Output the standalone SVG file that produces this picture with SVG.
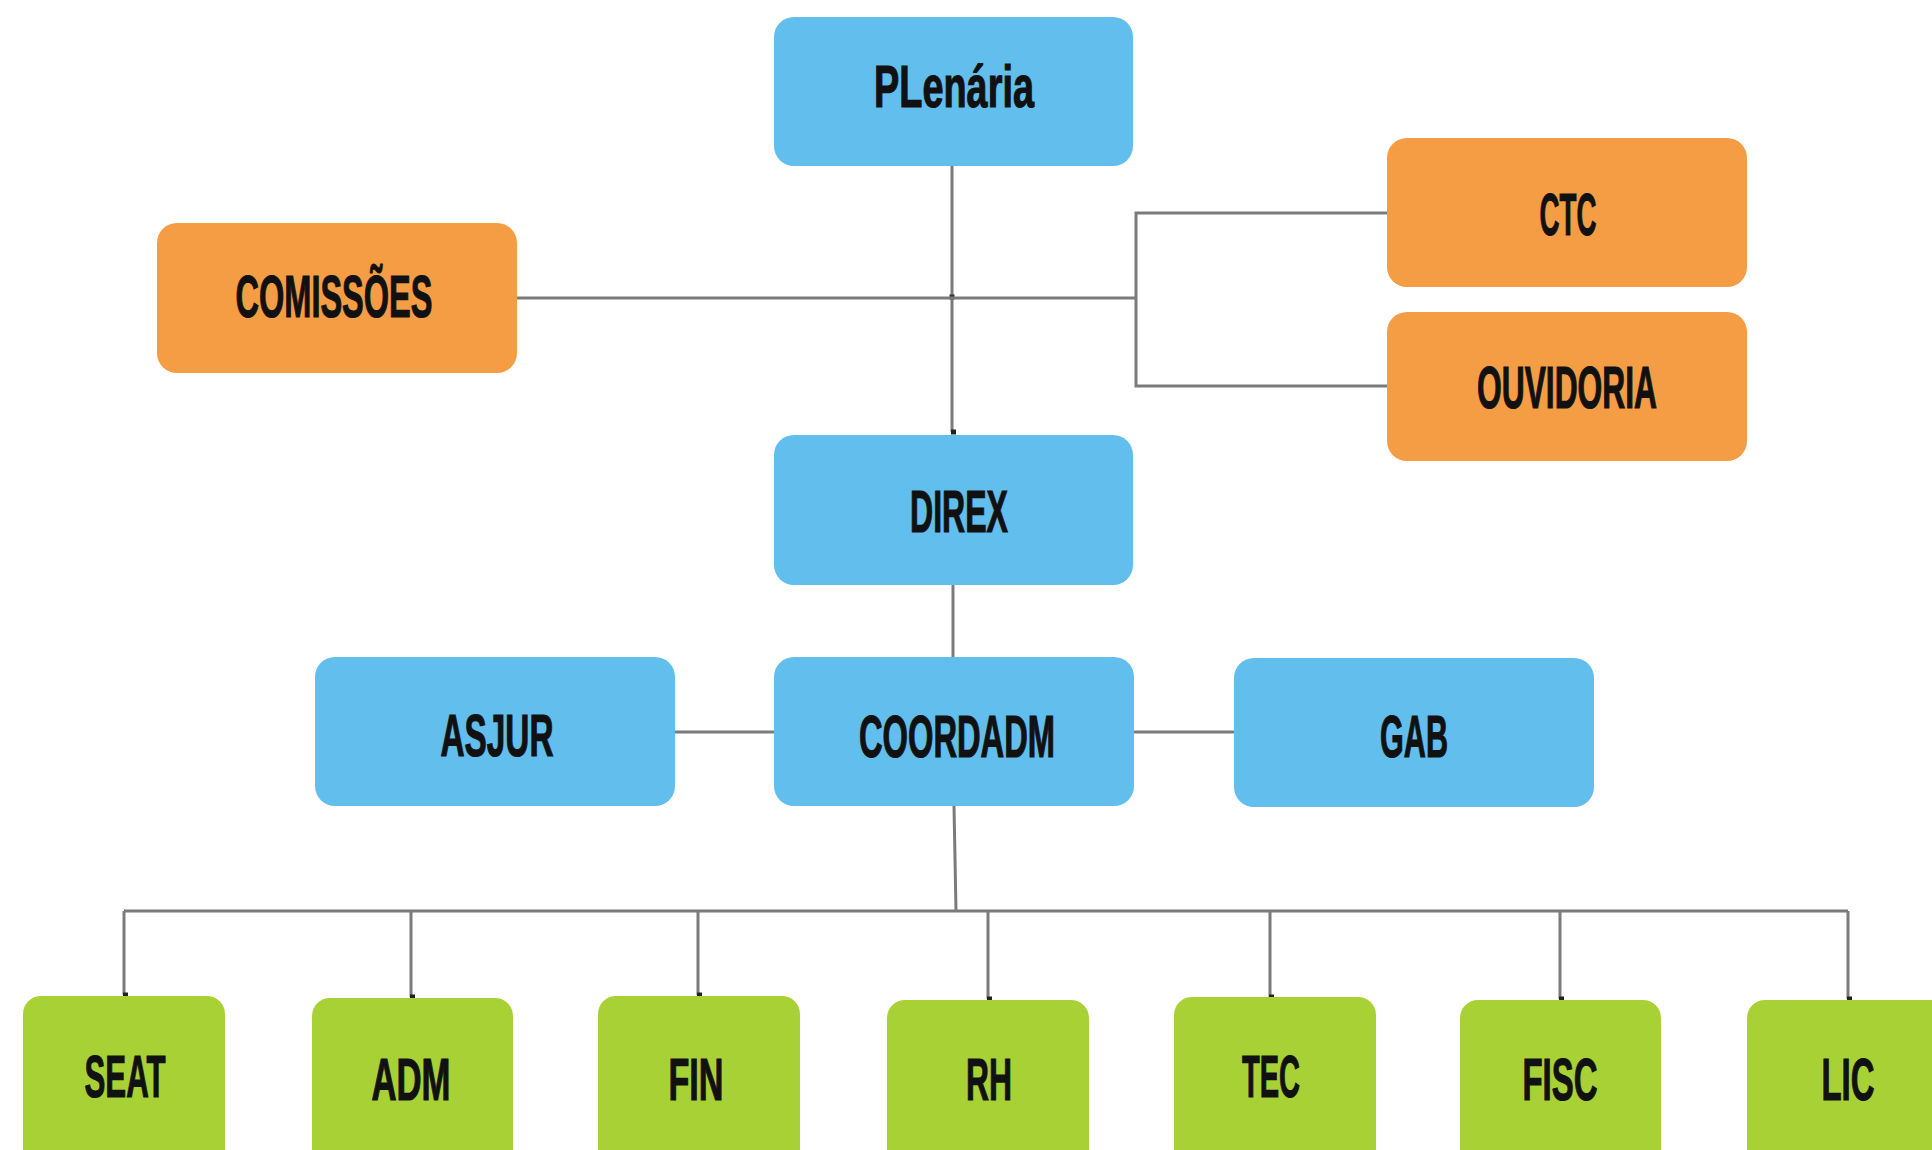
<svg xmlns="http://www.w3.org/2000/svg" width="1932" height="1150" viewBox="0 0 1932 1150">
<defs>
<style>
.blue{fill:#62BEEC}
.orange{fill:#F49D45}
.green{fill:#A8D136}
.lbl{font-family:"Liberation Sans","Arial",sans-serif;font-weight:bold;font-size:60px;fill:#111;stroke:#111;stroke-width:1.2;text-anchor:middle}
.ln{fill:none;stroke:#7b7b7b;stroke-width:3}
</style>
<marker id="tip" markerWidth="6" markerHeight="6" refX="3" refY="5" orient="auto" markerUnits="userSpaceOnUse">
<rect x="0.5" y="1" width="5" height="5" fill="#222"/>
</marker>
</defs>
<rect width="1932" height="1150" fill="#ffffff"/>
<g id="connectors">
<path class="ln" d="M952 166 V432" marker-end="url(#tip)"/>
<rect x="949.5" y="294.5" width="5" height="5" fill="#333"/>
<path class="ln" d="M517 298 H1136"/>
<path class="ln" d="M1387 213 H1136 V386 H1387"/>
<path class="ln" d="M953 585 V657"/>
<path class="ln" d="M675 732 H774"/>
<path class="ln" d="M1134 732 H1234"/>
<path class="ln" d="M954 806 L956 911"/>
<path class="ln" d="M124 911 H1848"/>
<path class="ln" d="M124 911 V995" marker-end="url(#tip)"/>
<path class="ln" d="M411 911 V997" marker-end="url(#tip)"/>
<path class="ln" d="M698 911 V995" marker-end="url(#tip)"/>
<path class="ln" d="M988 911 V999" marker-end="url(#tip)"/>
<path class="ln" d="M1270 911 V997" marker-end="url(#tip)"/>
<path class="ln" d="M1560 911 V999" marker-end="url(#tip)"/>
<path class="ln" d="M1848 911 V999" marker-end="url(#tip)"/>
</g>
<g id="plenaria"><rect class="blue" x="774" y="17" width="359" height="149" rx="20"/><text class="lbl" x="954" y="107" textLength="160" lengthAdjust="spacingAndGlyphs">PLenária</text></g>
<g id="comissoes"><rect class="orange" x="157" y="223" width="360" height="150" rx="20"/><text class="lbl" x="334" y="317" textLength="197" lengthAdjust="spacingAndGlyphs">COMISSÕES</text></g>
<g id="ctc"><rect class="orange" x="1387" y="138" width="360" height="149" rx="20"/><text class="lbl" x="1568" y="235" textLength="57" lengthAdjust="spacingAndGlyphs">CTC</text></g>
<g id="ouvidoria"><rect class="orange" x="1387" y="312" width="360" height="149" rx="20"/><text class="lbl" x="1567" y="408" textLength="180" lengthAdjust="spacingAndGlyphs">OUVIDORIA</text></g>
<g id="direx"><rect class="blue" x="774" y="435" width="359" height="150" rx="20"/><text class="lbl" x="959" y="532" textLength="98" lengthAdjust="spacingAndGlyphs">DIREX</text></g>
<g id="asjur"><rect class="blue" x="315" y="657" width="360" height="149" rx="20"/><text class="lbl" x="497" y="756" textLength="113" lengthAdjust="spacingAndGlyphs">ASJUR</text></g>
<g id="coordadm"><rect class="blue" x="774" y="657" width="360" height="149" rx="20"/><text class="lbl" x="957" y="757" textLength="196" lengthAdjust="spacingAndGlyphs">COORDADM</text></g>
<g id="gab"><rect class="blue" x="1234" y="658" width="360" height="149" rx="20"/><text class="lbl" x="1414" y="757" textLength="68" lengthAdjust="spacingAndGlyphs">GAB</text></g>
<g id="seat"><rect class="green" x="23" y="996" width="202" height="180" rx="18"/><text class="lbl" x="125" y="1097" textLength="81" lengthAdjust="spacingAndGlyphs">SEAT</text></g>
<g id="adm"><rect class="green" x="312" y="998" width="201" height="180" rx="18"/><text class="lbl" x="411" y="1100" textLength="79" lengthAdjust="spacingAndGlyphs">ADM</text></g>
<g id="fin"><rect class="green" x="598" y="996" width="202" height="180" rx="18"/><text class="lbl" x="696" y="1100" textLength="55" lengthAdjust="spacingAndGlyphs">FIN</text></g>
<g id="rh"><rect class="green" x="887" y="1000" width="202" height="180" rx="18"/><text class="lbl" x="989" y="1100" textLength="46" lengthAdjust="spacingAndGlyphs">RH</text></g>
<g id="tec"><rect class="green" x="1174" y="997" width="202" height="180" rx="18"/><text class="lbl" x="1271" y="1097" textLength="58" lengthAdjust="spacingAndGlyphs">TEC</text></g>
<g id="fisc"><rect class="green" x="1460" y="1000" width="201" height="180" rx="18"/><text class="lbl" x="1560" y="1100" textLength="75" lengthAdjust="spacingAndGlyphs">FISC</text></g>
<g id="lic"><rect class="green" x="1747" y="1000" width="202" height="180" rx="18"/><text class="lbl" x="1848" y="1100" textLength="53" lengthAdjust="spacingAndGlyphs">LIC</text></g>
</svg>
